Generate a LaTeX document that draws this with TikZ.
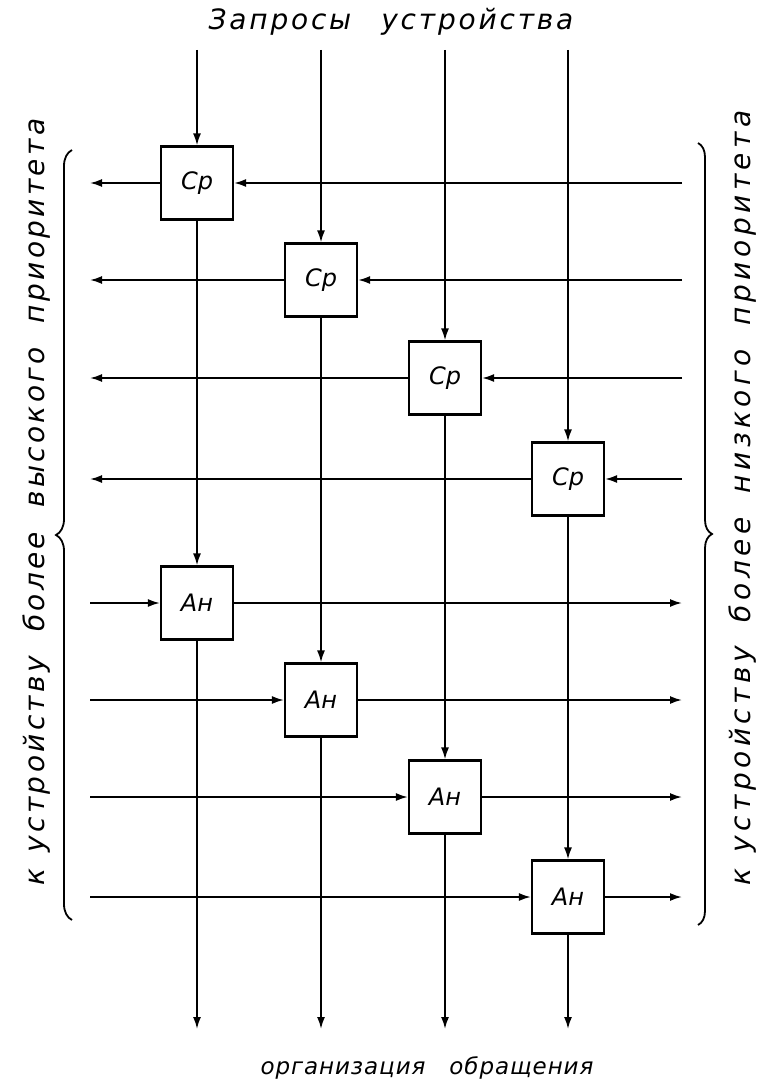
\documentclass[tikz,border=0pt]{standalone}
\usepackage{fontspec}
\setmainfont{DejaVu Sans}
\newfontfamily\handfont{DejaVu Sans}
\usetikzlibrary{arrows.meta,decorations.pathreplacing}

\tikzstyle{block} = [draw,line width=2.2pt,minimum width=72pt,minimum height=73pt,inner sep=0pt,font=\itshape\fontsize{24}{24}\selectfont]
\tikzstyle{wire} = [line width=1.8pt,-{Latex[length=12pt,width=8pt]}]
\tikzstyle{caption} = [inner sep=0pt]

\begin{document}
\begin{tikzpicture}[x=1pt,y=-1pt]
	\useasboundingbox (0,0) rectangle (761,1086);
	% free ends of the lines
	\coordinate (top) at (0,50);
	\coordinate (bot) at (0,1029);
	\coordinate (lft) at (90,0);
	\coordinate (rgt) at (682,0);
	% comparators
	\node[block] (cp1) at (197,183) {Ср};
	\node[block] (cp2) at (321,280) {Ср};
	\node[block] (cp3) at (445,378) {Ср};
	\node[block] (cp4) at (568,479) {Ср};
	% gates
	\node[block] (an1) at (197,603) {Ан};
	\node[block] (an2) at (321,700) {Ан};
	\node[block] (an3) at (445,797) {Ан};
	\node[block] (an4) at (568,897) {Ан};
	% texts
	\node[caption,font=\handfont\itshape\fontsize{28}{28}\selectfont\addfontfeature{LetterSpace=10}] (req) at (391,22) {Запросы\hspace{30pt}устройства};
	\node[caption,font=\handfont\itshape\fontsize{23}{23}\selectfont\addfontfeature{LetterSpace=4}] (acc) at (427,1068) {организация\hspace{24pt}обращения};
	\node[caption,rotate=90,font=\handfont\itshape\fontsize{28}{28}\selectfont\addfontfeature{LetterSpace=12}] (high) at (37,502) {к\hspace{16pt}устройству\hspace{24pt}более\hspace{24pt}высокого\hspace{24pt}приоритета};
	\node[caption,rotate=90,font=\handfont\itshape\fontsize{28}{28}\selectfont\addfontfeature{LetterSpace=16}] (low) at (743,498) {к\hspace{16pt}устройству\hspace{24pt}более\hspace{24pt}низкого\hspace{24pt}приоритета};
	% request lines
	\draw[wire] (cp1 |- top) -- (cp1.north);
	\draw[wire] (cp2 |- top) -- (cp2.north);
	\draw[wire] (cp3 |- top) -- (cp3.north);
	\draw[wire] (cp4 |- top) -- (cp4.north);
	\draw[wire] (cp1.south) -- (an1.north);
	\draw[wire] (cp2.south) -- (an2.north);
	\draw[wire] (cp3.south) -- (an3.north);
	\draw[wire] (cp4.south) -- (an4.north);
	\draw[wire] (an1.south) -- (an1 |- bot);
	\draw[wire] (an2.south) -- (an2 |- bot);
	\draw[wire] (an3.south) -- (an3 |- bot);
	\draw[wire] (an4.south) -- (an4 |- bot);
	% priority chain
	\draw[wire] (rgt |- cp1) -- (cp1.east);
	\draw[wire] (rgt |- cp2) -- (cp2.east);
	\draw[wire] (rgt |- cp3) -- (cp3.east);
	\draw[wire] (rgt |- cp4) -- (cp4.east);
	\draw[wire] (cp1.west) -- (lft |- cp1);
	\draw[wire] (cp2.west) -- (lft |- cp2);
	\draw[wire] (cp3.west) -- (lft |- cp3);
	\draw[wire] (cp4.west) -- (lft |- cp4);
	\draw[wire] (lft |- an1) -- (an1.west);
	\draw[wire] (lft |- an2) -- (an2.west);
	\draw[wire] (lft |- an3) -- (an3.west);
	\draw[wire] (lft |- an4) -- (an4.west);
	\draw[wire] (an1.east) -- (rgt |- an1);
	\draw[wire] (an2.east) -- (rgt |- an2);
	\draw[wire] (an3.east) -- (rgt |- an3);
	\draw[wire] (an4.east) -- (rgt |- an4);
	% braces
	\draw[line width=1.8pt,decorate,decoration={brace,amplitude=16pt}] (72,920) -- (72,150);
	\draw[line width=1.8pt,decorate,decoration={brace,amplitude=14pt}] (698,143) -- (698,925);
\end{tikzpicture}
\end{document}
